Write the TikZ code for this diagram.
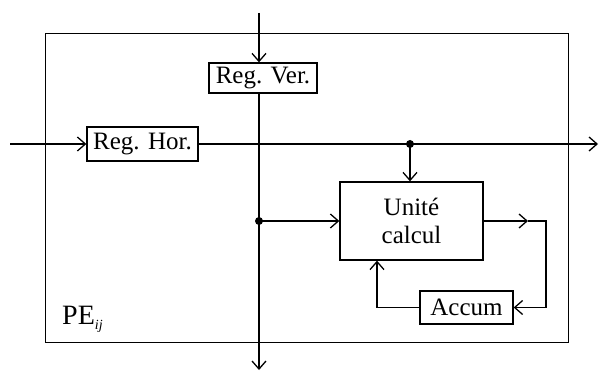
\documentclass[tikz,border=0pt]{standalone}
\usepackage{fontspec}
\setmainfont{Liberation Serif}
\usetikzlibrary{arrows.meta,positioning}
\tikzset{
    pebox/.style={
        rectangle,
        draw=black,
        line width=1.3pt,
        inner sep=0pt,
        align=center,
        font=\fontsize{25}{28}\selectfont
    },
    flow/.style={
        ->,
        >={Straight Barb[length=8pt,width=14pt]},
        line width=1.3pt
    },
    tap/.style={circle, fill=black, inner sep=0pt, minimum size=8pt}
}
\begin{document}
\begin{tikzpicture}[x=1pt, y=-1pt]
\useasboundingbox (0,0) rectangle (599,371);

% PE frame
\node[draw, line width=1.3pt, inner sep=0pt, minimum width=523pt, minimum height=309pt, anchor=north west] (pe) at (45,33) {};
\node[anchor=base west, inner sep=0pt, font=\fontsize{28}{30}\selectfont] (pelabel) at (62,324) {PE\raisebox{-5pt}{\fontsize{14}{14}\selectfont\itshape ij}};

% Registers
\node[pebox, minimum width=108pt, minimum height=30pt] (regver) at (263,78) {Reg. Ver.};
\node[pebox, minimum width=111pt, minimum height=34pt] (reghor) at (142.5,144) {Reg. Hor.};

% Unite de calcul and accumulateur
\node[pebox, minimum width=143pt, minimum height=78pt] (calc) at (411.5,221) {Unité\\calcul};
\node[pebox, minimum width=93pt, minimum height=33pt] (accum) at (466.5,307.5) {Accum};

% wire ends
\coordinate (vtop) at (259,13);
\coordinate (vbot) at (259,370);
\coordinate (hleft) at (10,144);
\coordinate (hright) at (598,144);
\coordinate (tapH) at (410,144);
\coordinate (tapV) at (259,221);
\coordinate (outmid) at (528,221);
\coordinate (loopR) at (546,221);
\coordinate (loopL) at (377,307.5);

% vertical data
\draw[flow] (vtop) -- (vtop |- regver.north);
\draw[flow] (regver.south -| vtop) -- (vbot);

% horizontal data
\draw[flow] (hleft) -- (reghor.west);
\draw[flow] (reghor.east) -- (hright);

% inputs of calc
\draw[flow] (tapH) -- (calc.north -| tapH);
\draw[flow] (tapV) -- (calc.west |- tapV);
\node[tap] (dotH) at (tapH) {};
\node[tap] (dotV) at (tapV) {};

% accumulation loop
\draw[flow] (calc.east |- outmid) -- (outmid);
\draw[flow] (outmid) -- (loopR) |- (accum.east);
\draw[flow] (accum.west) -- (loopL) -- (loopL |- calc.south);
\end{tikzpicture}
\end{document}
